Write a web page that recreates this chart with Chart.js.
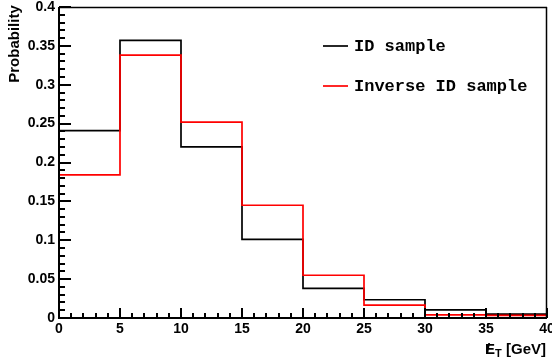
<!DOCTYPE html>
<html><head><meta charset="utf-8">
<script src="https://cdn.jsdelivr.net/npm/chart.js@4.4.1/dist/chart.umd.min.js"></script>
<style>html,body{margin:0;padding:0;background:#fff}#wrap{width:552px;height:358px}</style>
</head><body><div id="wrap"><canvas id="c" width="552" height="358"></canvas></div>
<script>
const binEdges = [0, 5, 10, 15, 20, 25, 30, 35, 40];
const idSample = [0.241, 0.357, 0.220, 0.101, 0.038, 0.0235, 0.0105, 0.005];
const inverseIdSample = [0.184, 0.338, 0.252, 0.145, 0.055, 0.0165, 0.004, 0.0035];
const seriesLabels = ['ID sample', 'Inverse ID sample'];
const xTickValues = [0, 5, 10, 15, 20, 25, 30, 35, 40];
const yTickValues = [0, 0.05, 0.1, 0.15, 0.2, 0.25, 0.3, 0.35, 0.4];
const yAxisTitle = 'Probability';

function histPoints(vals) {
  return binEdges.map((e, i) => ({ x: e, y: vals[Math.min(i, vals.length - 1)] }));
}

const rootStyle = {
  id: 'rootStyle',
  afterDatasetsDraw(chart) {
    const ctx = chart.ctx, a = chart.chartArea;
    const xs = chart.scales.x, ys = chart.scales.y;
    ctx.save();
    ctx.strokeStyle = '#000';
    // frame top/right
    ctx.lineWidth = 1.5;
    ctx.beginPath();
    ctx.moveTo(a.left, a.top + 0.5); ctx.lineTo(a.right, a.top + 0.5);
    ctx.moveTo(a.right - 0.5, a.top); ctx.lineTo(a.right - 0.5, a.bottom);
    ctx.stroke();
    // axes
    ctx.lineWidth = 2;
    ctx.beginPath();
    ctx.moveTo(a.left, a.top); ctx.lineTo(a.left, a.bottom + 1);
    ctx.moveTo(a.left - 1, a.bottom); ctx.lineTo(a.right, a.bottom);
    ctx.stroke();
    // y ticks
    ctx.lineWidth = 2;
    ctx.beginPath();
    for (let i = 0; i <= 40; i++) {
      const py = Math.round(ys.getPixelForValue(i * 0.01));
      const len = i % 5 === 0 ? 12 : 6;
      ctx.moveTo(a.left, py); ctx.lineTo(a.left + len, py);
    }
    // x ticks
    for (let i = 0; i <= 40; i++) {
      const px = Math.round(xs.getPixelForValue(i));
      const len = i % 5 === 0 ? 10 : 5;
      ctx.moveTo(px, a.bottom); ctx.lineTo(px, a.bottom - len);
    }
    ctx.stroke();

    // legend
    ctx.font = 'bold 17px "Liberation Mono", "Courier New", monospace';
    ctx.textBaseline = 'middle';
    ctx.textAlign = 'left';
    const ly = [46, 86];
    chart.data.datasets.forEach((ds, i) => {
      ctx.strokeStyle = ds.borderColor; ctx.lineWidth = 1.7;
      ctx.beginPath(); ctx.moveTo(323, ly[i]); ctx.lineTo(348, ly[i]); ctx.stroke();
      ctx.fillStyle = '#000';
      ctx.fillText(ds.label, 354, ly[i] + 1);
    });

    // y title
    ctx.save();
    ctx.translate(14, 44);
    ctx.rotate(-Math.PI / 2);
    ctx.font = 'bold 15px "Liberation Sans", Arial, sans-serif';
    ctx.textAlign = 'center';
    ctx.fillStyle = '#000';
    ctx.fillText(yAxisTitle, 0, 1);
    ctx.restore();

    // x title: E-slash subscript T [GeV], right aligned
    ctx.fillStyle = '#000';
    ctx.textBaseline = 'alphabetic';
    ctx.textAlign = 'left';
    const big = 'bold 15px "Liberation Sans", Arial, sans-serif';
    const small = 'bold 11px "Liberation Sans", Arial, sans-serif';
    ctx.font = big; const wE = ctx.measureText('E').width;
    ctx.font = small; const wT = ctx.measureText('T').width;
    ctx.font = big; const wG = ctx.measureText(' [GeV]').width;
    const total = wE + wT + wG;
    let x0 = 546 - total; const base = 354;
    ctx.font = big; ctx.fillText('E', x0, base);
    ctx.fillText('/', x0 + 1, base);
    ctx.font = small; ctx.fillText('T', x0 + wE, base + 3);
    ctx.font = big; ctx.fillText(' [GeV]', x0 + wE + wT, base);
    ctx.restore();
  }
};

new Chart(document.getElementById('c'), {
  type: 'line',
  data: {
    datasets: [
      { label: seriesLabels[0], data: histPoints(idSample), borderColor: '#000000', borderWidth: 1.7, stepped: 'before', pointRadius: 0, fill: false, order: 2 },
      { label: seriesLabels[1], data: histPoints(inverseIdSample), borderColor: '#ff0000', borderWidth: 1.7, stepped: 'before', pointRadius: 0, fill: false, order: 1 }
    ]
  },
  options: {
    responsive: false, animation: false, devicePixelRatio: 1,
    layout: { autoPadding: false, padding: { top: 7, right: 5, left: 0, bottom: 0 } },
    plugins: { legend: { display: false }, tooltip: { enabled: false } },
    scales: {
      x: {
        type: 'linear', min: 0, max: 40,
        afterFit(s) { s.height = 40; s.paddingLeft = 0; s.paddingRight = 0; s.paddingTop = 0; s.paddingBottom = 0; },
        afterBuildTicks(s) { s.ticks = xTickValues.map(v => ({ value: v })); },
        grid: { display: false, drawTicks: false }, border: { display: false },
        ticks: { padding: 3, color: '#000', font: { family: '"Liberation Sans", Arial, sans-serif', size: 14, weight: 'bold' }, maxRotation: 0, autoSkip: false, callback: v => String(v) }
      },
      y: {
        type: 'linear', min: 0, max: 0.4,
        afterFit(s) { s.width = 59; s.paddingLeft = 0; s.paddingRight = 0; s.paddingTop = 0; s.paddingBottom = 0; },
        afterBuildTicks(s) { s.ticks = yTickValues.map(v => ({ value: v })); },
        grid: { display: false, drawTicks: false }, border: { display: false },
        ticks: { padding: 4, color: '#000', font: { family: '"Liberation Sans", Arial, sans-serif', size: 14, weight: 'bold' }, autoSkip: false, callback: v => String(Number(v.toFixed(2))) }
      }
    }
  },
  plugins: [rootStyle]
});
</script></body></html>
